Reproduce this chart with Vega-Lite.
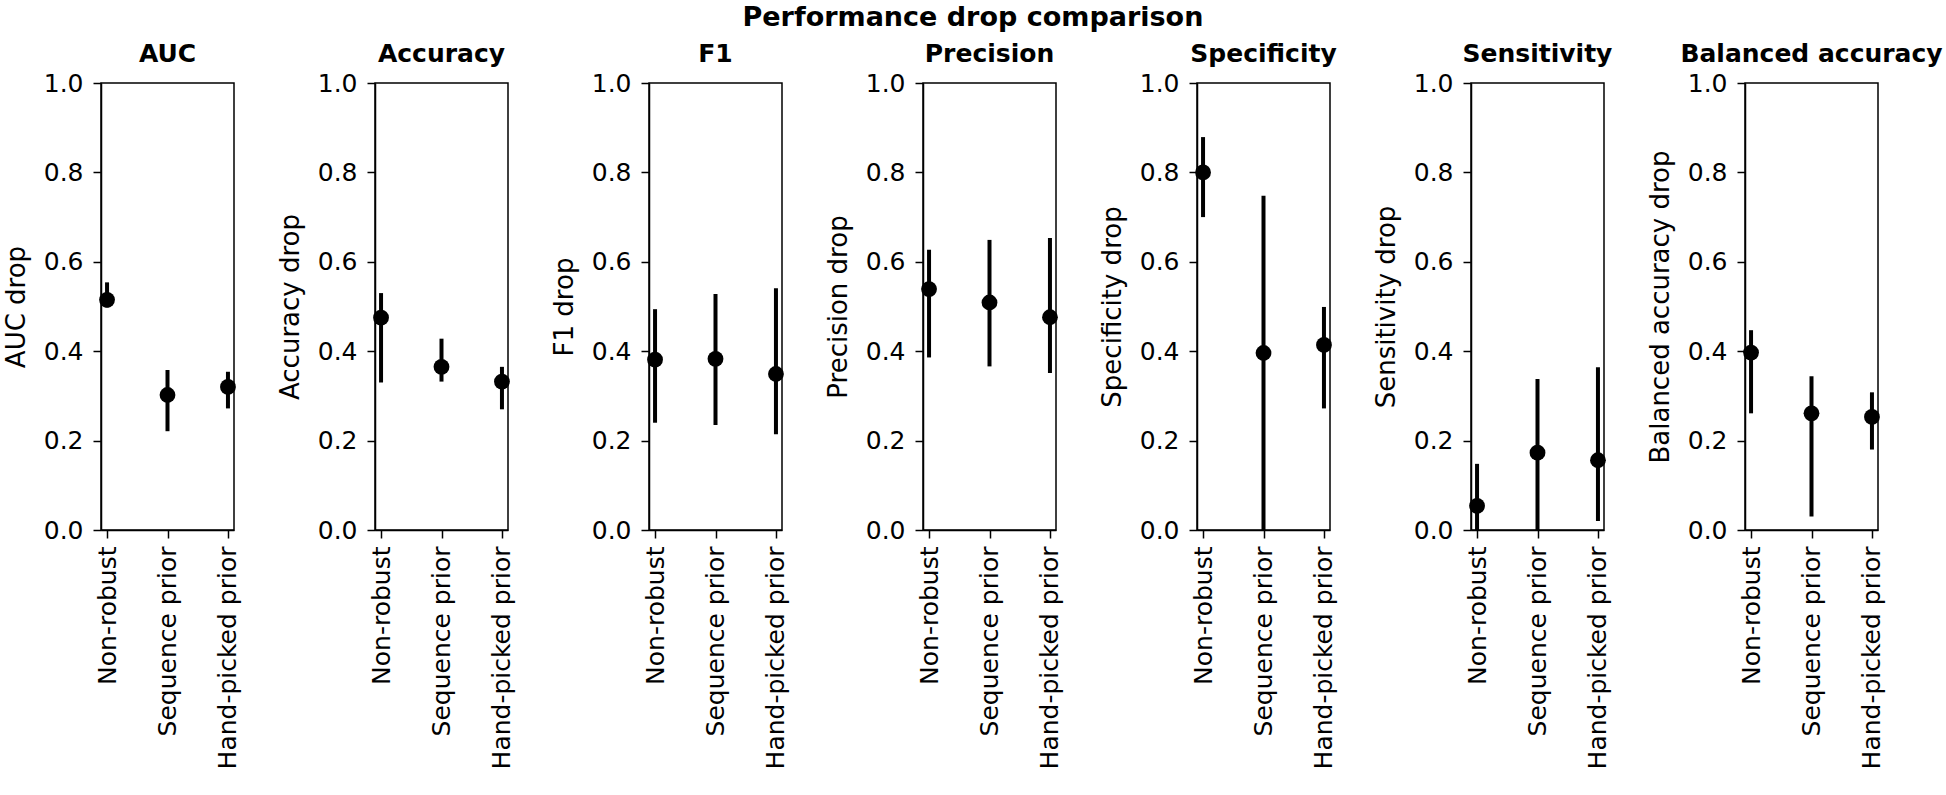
{
  "$schema": "https://vega.github.io/schema/vega-lite/v6.json",
  "padding": {"left": 2, "top": 3, "right": 2, "bottom": 2},
  "background": "white",
  "title": {"text": "Performance drop comparison", "fontSize": 27, "fontWeight": "bold", "anchor": "middle", "offset": 9, "font": "DejaVu Sans", "color": "black"},
  "data": {"values": [
    {"metric": "AUC", "method": "Non-robust", "value": 0.515, "lo": 0.498, "hi": 0.554},
    {"metric": "AUC", "method": "Sequence prior", "value": 0.302, "lo": 0.221, "hi": 0.358},
    {"metric": "AUC", "method": "Hand-picked prior", "value": 0.320, "lo": 0.272, "hi": 0.354},
    {"metric": "Accuracy", "method": "Non-robust", "value": 0.475, "lo": 0.330, "hi": 0.530},
    {"metric": "Accuracy", "method": "Sequence prior", "value": 0.365, "lo": 0.332, "hi": 0.428},
    {"metric": "Accuracy", "method": "Hand-picked prior", "value": 0.332, "lo": 0.270, "hi": 0.365},
    {"metric": "F1", "method": "Non-robust", "value": 0.381, "lo": 0.240, "hi": 0.494},
    {"metric": "F1", "method": "Sequence prior", "value": 0.383, "lo": 0.235, "hi": 0.528},
    {"metric": "F1", "method": "Hand-picked prior", "value": 0.349, "lo": 0.214, "hi": 0.541},
    {"metric": "Precision", "method": "Non-robust", "value": 0.539, "lo": 0.386, "hi": 0.627},
    {"metric": "Precision", "method": "Sequence prior", "value": 0.509, "lo": 0.366, "hi": 0.649},
    {"metric": "Precision", "method": "Hand-picked prior", "value": 0.476, "lo": 0.351, "hi": 0.653},
    {"metric": "Specificity", "method": "Non-robust", "value": 0.800, "lo": 0.700, "hi": 0.879},
    {"metric": "Specificity", "method": "Sequence prior", "value": 0.396, "lo": 0.0, "hi": 0.748},
    {"metric": "Specificity", "method": "Hand-picked prior", "value": 0.414, "lo": 0.272, "hi": 0.499},
    {"metric": "Sensitivity", "method": "Non-robust", "value": 0.054, "lo": 0.0, "hi": 0.148},
    {"metric": "Sensitivity", "method": "Sequence prior", "value": 0.173, "lo": 0.0, "hi": 0.338},
    {"metric": "Sensitivity", "method": "Hand-picked prior", "value": 0.156, "lo": 0.020, "hi": 0.364},
    {"metric": "Balanced accuracy", "method": "Non-robust", "value": 0.397, "lo": 0.261, "hi": 0.447},
    {"metric": "Balanced accuracy", "method": "Sequence prior", "value": 0.261, "lo": 0.030, "hi": 0.344},
    {"metric": "Balanced accuracy", "method": "Hand-picked prior", "value": 0.253, "lo": 0.180, "hi": 0.308}
  ]},
  "bounds": "flush",
  "spacing": 141,
  "hconcat": [
    {"title": "AUC", "width": 133, "height": 447, "transform": [{"filter": "datum.metric === 'AUC'"}],
     "layer": [
      {"mark": {"type": "rule", "strokeWidth": 4, "color": "black"}, "encoding": {"x": {"field": "method", "type": "nominal", "sort": ["Non-robust", "Sequence prior", "Hand-picked prior"], "scale": {"type": "point", "padding": 0.1}, "axis": {"title": null, "labelAngle": -90, "labelLimit": 0}}, "y": {"field": "lo", "type": "quantitative", "scale": {"domain": [0, 1]}, "axis": {"title": "AUC drop", "values": [0, 0.2, 0.4, 0.6, 0.8, 1.0], "format": ".1f"}}, "y2": {"field": "hi"}}},
      {"mark": {"type": "point", "filled": true, "size": 250, "color": "black", "opacity": 1}, "encoding": {"x": {"field": "method", "type": "nominal", "sort": ["Non-robust", "Sequence prior", "Hand-picked prior"]}, "y": {"field": "value", "type": "quantitative", "title": "AUC drop"}}}
     ]},
    {"title": "Accuracy", "width": 133, "height": 447, "transform": [{"filter": "datum.metric === 'Accuracy'"}],
     "layer": [
      {"mark": {"type": "rule", "strokeWidth": 4, "color": "black"}, "encoding": {"x": {"field": "method", "type": "nominal", "sort": ["Non-robust", "Sequence prior", "Hand-picked prior"], "scale": {"type": "point", "padding": 0.1}, "axis": {"title": null, "labelAngle": -90, "labelLimit": 0}}, "y": {"field": "lo", "type": "quantitative", "scale": {"domain": [0, 1]}, "axis": {"title": "Accuracy drop", "values": [0, 0.2, 0.4, 0.6, 0.8, 1.0], "format": ".1f"}}, "y2": {"field": "hi"}}},
      {"mark": {"type": "point", "filled": true, "size": 250, "color": "black", "opacity": 1}, "encoding": {"x": {"field": "method", "type": "nominal", "sort": ["Non-robust", "Sequence prior", "Hand-picked prior"]}, "y": {"field": "value", "type": "quantitative", "title": "Accuracy drop"}}}
     ]},
    {"title": "F1", "width": 133, "height": 447, "transform": [{"filter": "datum.metric === 'F1'"}],
     "layer": [
      {"mark": {"type": "rule", "strokeWidth": 4, "color": "black"}, "encoding": {"x": {"field": "method", "type": "nominal", "sort": ["Non-robust", "Sequence prior", "Hand-picked prior"], "scale": {"type": "point", "padding": 0.1}, "axis": {"title": null, "labelAngle": -90, "labelLimit": 0}}, "y": {"field": "lo", "type": "quantitative", "scale": {"domain": [0, 1]}, "axis": {"title": "F1 drop", "values": [0, 0.2, 0.4, 0.6, 0.8, 1.0], "format": ".1f"}}, "y2": {"field": "hi"}}},
      {"mark": {"type": "point", "filled": true, "size": 250, "color": "black", "opacity": 1}, "encoding": {"x": {"field": "method", "type": "nominal", "sort": ["Non-robust", "Sequence prior", "Hand-picked prior"]}, "y": {"field": "value", "type": "quantitative", "title": "F1 drop"}}}
     ]},
    {"title": "Precision", "width": 133, "height": 447, "transform": [{"filter": "datum.metric === 'Precision'"}],
     "layer": [
      {"mark": {"type": "rule", "strokeWidth": 4, "color": "black"}, "encoding": {"x": {"field": "method", "type": "nominal", "sort": ["Non-robust", "Sequence prior", "Hand-picked prior"], "scale": {"type": "point", "padding": 0.1}, "axis": {"title": null, "labelAngle": -90, "labelLimit": 0}}, "y": {"field": "lo", "type": "quantitative", "scale": {"domain": [0, 1]}, "axis": {"title": "Precision drop", "values": [0, 0.2, 0.4, 0.6, 0.8, 1.0], "format": ".1f"}}, "y2": {"field": "hi"}}},
      {"mark": {"type": "point", "filled": true, "size": 250, "color": "black", "opacity": 1}, "encoding": {"x": {"field": "method", "type": "nominal", "sort": ["Non-robust", "Sequence prior", "Hand-picked prior"]}, "y": {"field": "value", "type": "quantitative", "title": "Precision drop"}}}
     ]},
    {"title": "Specificity", "width": 133, "height": 447, "transform": [{"filter": "datum.metric === 'Specificity'"}],
     "layer": [
      {"mark": {"type": "rule", "strokeWidth": 4, "color": "black"}, "encoding": {"x": {"field": "method", "type": "nominal", "sort": ["Non-robust", "Sequence prior", "Hand-picked prior"], "scale": {"type": "point", "padding": 0.1}, "axis": {"title": null, "labelAngle": -90, "labelLimit": 0}}, "y": {"field": "lo", "type": "quantitative", "scale": {"domain": [0, 1]}, "axis": {"title": "Specificity drop", "values": [0, 0.2, 0.4, 0.6, 0.8, 1.0], "format": ".1f"}}, "y2": {"field": "hi"}}},
      {"mark": {"type": "point", "filled": true, "size": 250, "color": "black", "opacity": 1}, "encoding": {"x": {"field": "method", "type": "nominal", "sort": ["Non-robust", "Sequence prior", "Hand-picked prior"]}, "y": {"field": "value", "type": "quantitative", "title": "Specificity drop"}}}
     ]},
    {"title": "Sensitivity", "width": 133, "height": 447, "transform": [{"filter": "datum.metric === 'Sensitivity'"}],
     "layer": [
      {"mark": {"type": "rule", "strokeWidth": 4, "color": "black"}, "encoding": {"x": {"field": "method", "type": "nominal", "sort": ["Non-robust", "Sequence prior", "Hand-picked prior"], "scale": {"type": "point", "padding": 0.1}, "axis": {"title": null, "labelAngle": -90, "labelLimit": 0}}, "y": {"field": "lo", "type": "quantitative", "scale": {"domain": [0, 1]}, "axis": {"title": "Sensitivity drop", "values": [0, 0.2, 0.4, 0.6, 0.8, 1.0], "format": ".1f"}}, "y2": {"field": "hi"}}},
      {"mark": {"type": "point", "filled": true, "size": 250, "color": "black", "opacity": 1}, "encoding": {"x": {"field": "method", "type": "nominal", "sort": ["Non-robust", "Sequence prior", "Hand-picked prior"]}, "y": {"field": "value", "type": "quantitative", "title": "Sensitivity drop"}}}
     ]},
    {"title": "Balanced accuracy", "width": 133, "height": 447, "transform": [{"filter": "datum.metric === 'Balanced accuracy'"}],
     "layer": [
      {"mark": {"type": "rule", "strokeWidth": 4, "color": "black"}, "encoding": {"x": {"field": "method", "type": "nominal", "sort": ["Non-robust", "Sequence prior", "Hand-picked prior"], "scale": {"type": "point", "padding": 0.1}, "axis": {"title": null, "labelAngle": -90, "labelLimit": 0}}, "y": {"field": "lo", "type": "quantitative", "scale": {"domain": [0, 1]}, "axis": {"title": "Balanced accuracy drop", "values": [0, 0.2, 0.4, 0.6, 0.8, 1.0], "format": ".1f"}}, "y2": {"field": "hi"}}},
      {"mark": {"type": "point", "filled": true, "size": 250, "color": "black", "opacity": 1}, "encoding": {"x": {"field": "method", "type": "nominal", "sort": ["Non-robust", "Sequence prior", "Hand-picked prior"]}, "y": {"field": "value", "type": "quantitative", "title": "Balanced accuracy drop"}}}
     ]}
  ],
  "config": {
    "font": "DejaVu Sans",
    "view": {"stroke": "black", "strokeWidth": 1.5},
    "axis": {"grid": false, "labelFont": "DejaVu Sans", "titleFont": "DejaVu Sans", "labelFontSize": 25, "titleFontSize": 26, "titleFontWeight": "normal", "labelColor": "black", "titleColor": "black", "tickColor": "black", "domainColor": "black", "tickSize": 8, "tickWidth": 1.5, "domainWidth": 1.5, "labelPadding": 8, "titlePadding": 14, "labelLimit": 0},
    "axisY": {"labelPadding": 10},
    "title": {"font": "DejaVu Sans", "fontSize": 25, "fontWeight": "bold", "color": "black", "offset": 4.5}
  }
}
